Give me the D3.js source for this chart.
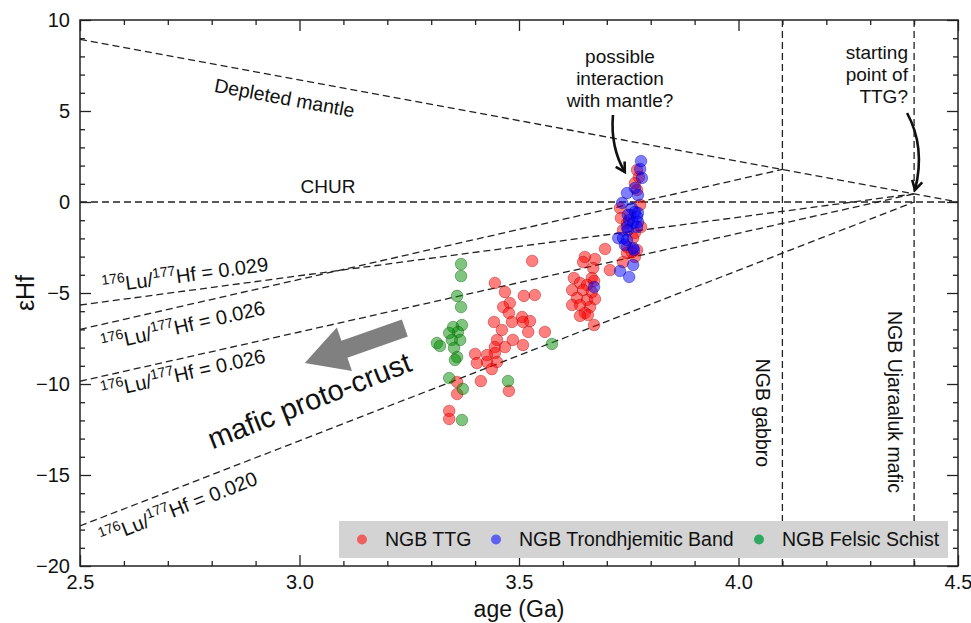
<!DOCTYPE html>
<html><head><meta charset="utf-8">
<script src="https://cdn.jsdelivr.net/npm/d3@7"></script>
<style>
body{margin:0;background:#fff;}
text{font-family:"Liberation Sans",Arial,Helvetica,sans-serif;fill:#111;}
</style>
</head><body>
<svg id="chart" width="971" height="623"></svg>
<script>
// ---------- data ----------
const xTicks = [2.5, 3.0, 3.5, 4.0, 4.5];
const yTicks = [-20, -15, -10, -5, 0, 5, 10];

// NGB TTG
const ttgAge = [3.530,3.445,3.468,3.511,3.536,3.479,3.464,3.477,3.507,3.484,3.443,3.525,3.509,3.521,3.461,3.559,3.486,3.450,3.445,3.509,3.468,3.445,3.427,3.400,3.404,3.427,3.450,3.438,3.413,3.359,3.359,3.477,3.341,3.341,
  3.650,3.646,3.673,3.669,3.625,3.666,3.671,3.639,3.655,3.621,3.646,3.666,3.632,3.655,3.673,3.621,3.639,3.662,3.650,3.657,3.639,3.671,3.696,3.707,3.737,
  3.769,3.773,3.764,3.769,3.730,3.753,3.746,3.764,3.737,3.746,3.769,3.746,3.757,3.764,3.776,3.760,3.778,3.732];
const ttgEHf = [-3.24,-4.45,-4.95,-5.16,-5.11,-5.55,-5.77,-6.10,-6.32,-6.59,-6.59,-6.54,-6.59,-7.14,-7.03,-7.14,-7.58,-7.58,-7.97,-7.86,-7.97,-8.30,-8.41,-8.35,-8.85,-8.79,-8.79,-9.18,-9.84,-9.89,-10.55,-10.38,-11.48,-11.92,
  -3.02,-3.30,-3.13,-3.63,-4.18,-4.18,-4.34,-4.45,-4.56,-4.84,-4.84,-4.95,-5.27,-5.38,-5.33,-5.66,-5.66,-5.77,-6.10,-6.21,-6.26,-6.76,-2.58,-3.74,-3.30,
  1.76,1.37,1.04,0.66,-0.33,-0.71,-1.15,-1.70,-1.54,-2.47,-2.64,-2.80,-2.75,-3.02,-0.16,-1.98,-1.37,-0.88];

// NGB Trondhjemitic Band
const tbAge = [3.778,3.776,3.780,3.746,3.764,3.771,3.735,3.757,3.764,3.771,3.748,3.769,3.751,3.760,3.771,3.746,3.769,3.748,3.726,3.737,3.746,3.760,3.741,3.762,3.760,3.730,3.751,3.671];
const tbEHf = [2.25,1.81,1.32,0.49,0.77,0.38,-0.05,-0.33,-0.55,-0.60,-0.71,-0.82,-0.99,-1.15,-1.10,-1.37,-1.37,-1.54,-1.98,-1.98,-2.09,-2.53,-2.36,-2.64,-3.46,-3.79,-4.12,-4.67];

// NGB Felsic Schist
const fsAge = [3.368,3.368,3.359,3.368,3.370,3.350,3.361,3.341,3.366,3.347,3.313,3.320,3.352,3.359,3.354,3.341,3.372,3.475,3.575,3.370];
const fsEHf = [-3.41,-4.07,-5.16,-5.77,-6.76,-6.87,-7.14,-7.20,-7.58,-7.58,-7.75,-7.91,-8.02,-8.52,-8.68,-9.67,-10.27,-9.84,-7.80,-11.98];

// reference evolution lines [age, eHf]
const depletedMantle = [[2.5, 8.94], [4.5, 0]];
const churLine = [[2.5, 0], [4.5, 0]];
const luHfLine029 = [[2.5, -5.66], [4.4, 0.45]];
const luHfLine026a = [[2.5, -7.0], [4.1, 1.79]];
const luHfLine026b = [[2.5, -9.85], [4.4, 0.45]];
const luHfLine020 = [[2.5, -17.8], [4.4, 0.0]];
const modelAges = [4.1, 4.4];

const seriesNames = ["NGB TTG", "NGB Trondhjemitic Band", "NGB Felsic Schist"];
const seriesColors = ["#ff0000", "#0000ff", "#008a00"];
const legendColors = ["#f06060", "#6060f0", "#30a860"];

// ---------- chart ----------
const svg = d3.select("#chart");
const L = 80, R = 958, T = 20, B = 566;
const x = d3.scaleLinear().domain([2.5, 4.5]).range([L, R]);
const y = d3.scaleLinear().domain([-20, 10]).range([B, T]);

svg.append("defs").append("clipPath").attr("id", "clip")
  .append("rect").attr("x", L).attr("y", T).attr("width", R - L).attr("height", B - T);

const line = d3.line().x(d => x(d[0])).y(d => y(d[1]));
const dashG = svg.append("g").attr("clip-path", "url(#clip)")
  .attr("fill", "none").attr("stroke", "#222").attr("stroke-width", 1.3).attr("stroke-dasharray", "7,4");
[depletedMantle, churLine, luHfLine029, luHfLine026a, luHfLine026b, luHfLine020].forEach(ln => {
  dashG.append("path").attr("d", line(ln));
});
modelAges.forEach(a => {
  dashG.append("line").attr("x1", x(a)).attr("x2", x(a)).attr("y1", T).attr("y2", B);
});

// points
const ptsG = svg.append("g").attr("clip-path", "url(#clip)");
function drawSeries(ages, vals, col) {
  ptsG.append("g").selectAll("circle").data(ages.map((a, i) => [a, vals[i]])).join("circle")
    .attr("cx", d => x(d[0])).attr("cy", d => y(d[1])).attr("r", 5.8)
    .attr("fill", col).attr("fill-opacity", 0.5)
    .attr("stroke", d3.color(col).darker(1.2)).attr("stroke-opacity", 0.45).attr("stroke-width", 0.9);
}
drawSeries(ttgAge, ttgEHf, seriesColors[0]);
drawSeries(tbAge, tbEHf, seriesColors[1]);
drawSeries(fsAge, fsEHf, seriesColors[2]);

// axes
const minorX = d3.range(2.5, 4.501, 0.1).filter(v => Math.abs(v * 2 - Math.round(v * 2)) > 1e-6);
const minorY = d3.range(-20, 10.01, 1).filter(v => v % 5 !== 0);
function styleAxis(g) { g.select(".domain").remove(); g.selectAll("line").attr("stroke", "#222").attr("stroke-width", 1.3); g.selectAll("text").style("font-size", "20px").attr("fill", "#111"); }
svg.append("g").attr("transform", `translate(0,${B})`)
  .call(d3.axisBottom(x).tickValues(xTicks).tickSize(-11).tickPadding(9).tickFormat(d3.format(".1f"))).call(styleAxis);
svg.append("g").attr("transform", `translate(0,${B})`)
  .call(d3.axisBottom(x).tickValues(minorX).tickSize(-5).tickFormat("")).call(styleAxis);
svg.append("g").attr("transform", `translate(0,${T})`)
  .call(d3.axisTop(x).tickValues(xTicks).tickSize(-11).tickFormat("")).call(styleAxis);
svg.append("g").attr("transform", `translate(0,${T})`)
  .call(d3.axisTop(x).tickValues(minorX).tickSize(-5).tickFormat("")).call(styleAxis);
svg.append("g").attr("transform", `translate(${L},0)`)
  .call(d3.axisLeft(y).tickValues(yTicks).tickSize(-11).tickPadding(10)).call(styleAxis);
svg.append("g").attr("transform", `translate(${L},0)`)
  .call(d3.axisLeft(y).tickValues(minorY).tickSize(-5).tickFormat("")).call(styleAxis);
svg.append("g").attr("transform", `translate(${R},0)`)
  .call(d3.axisRight(y).tickValues(yTicks).tickSize(-11).tickFormat("")).call(styleAxis);
svg.append("g").attr("transform", `translate(${R},0)`)
  .call(d3.axisRight(y).tickValues(minorY).tickSize(-5).tickFormat("")).call(styleAxis);
svg.append("rect").attr("x", L).attr("y", T).attr("width", R - L).attr("height", B - T)
  .attr("fill", "none").attr("stroke", "#222").attr("stroke-width", 1.5);

// axis titles
svg.append("text").attr("x", (L + R) / 2).attr("y", 617).attr("text-anchor", "middle")
  .style("font-size", "23px").text("age (Ga)");
svg.append("text").attr("transform", `translate(34,${(T + B) / 2}) rotate(-90)`).attr("text-anchor", "middle")
  .style("font-size", "25px").text("εHf");

// annotations
function ann(t, v, rot, txt, size, anchor) {
  return svg.append("text").attr("transform", `translate(${x(t)},${y(v)}) rotate(${rot})`)
    .attr("text-anchor", anchor || "start").style("font-size", size + "px").text(txt);
}
ann(2.963, 5.35, 10.4, "Depleted mantle", 19.5, "middle");
ann(3.065, 0.49, 0, "CHUR", 19, "middle");

function luHf(t, v, rot, val) {
  const tx = svg.append("text").attr("transform", `translate(${x(t)},${y(v)}) rotate(${rot})`).style("font-size", "20px");
  tx.append("tspan").attr("dy", -8).style("font-size", "14px").text("176");
  tx.append("tspan").attr("dy", 8).text("Lu/");
  tx.append("tspan").attr("dy", -8).style("font-size", "14px").text("177");
  tx.append("tspan").attr("dy", 8).text("Hf = " + val);
}
luHf(2.5524, -5.0, -7.6, "0.029");
luHf(2.5524, -8.2, -12.8, "0.026");
luHf(2.5524, -10.8, -12.5, "0.026");
luHf(2.5524, -18.85, -21.4, "0.020");

ann(2.802, -13.6, -21.5, "mafic proto-crust", 29, "start");

// gray arrow
(function () {
  const tipX = x(3.012), tipY = y(-8.85);
  const Lh = 106, hl = 42, hw = 23, sw = 9;
  const pts = [[0, 0], [hl, -hw], [hl, -sw], [Lh, -sw], [Lh, sw], [hl, sw], [hl, hw]];
  svg.append("polygon").attr("points", pts.map(p => p.join(",")).join(" "))
    .attr("transform", `translate(${tipX},${tipY}) rotate(-19.3)`).attr("fill", "#808080");
})();

// multi-line notes
function note(t, v, anchor, lines) {
  const tx = svg.append("text").attr("x", x(t)).attr("y", y(v)).attr("text-anchor", anchor).style("font-size", "19px");
  lines.forEach((l, i) => tx.append("tspan").attr("x", x(t)).attr("dy", i ? 22 : 0).text(l));
}
note(3.730, 7.64, "middle", ["possible", "interaction", "with mantle?"]);
note(4.386, 7.86, "end", ["starting", "point of", "TTG?"]);

svg.select("defs").append("marker").attr("id", "ah").attr("viewBox", "0 0 10 10").attr("refX", 8).attr("refY", 5)
  .attr("markerWidth", 5).attr("markerHeight", 5).attr("orient", "auto")
  .append("path").attr("d", "M1,1 L8,5 L1,9").attr("fill", "none").attr("stroke", "#111").attr("stroke-width", 2);
function curveArrow(p0, c, p1) {
  const p = d3.path(); p.moveTo(x(p0[0]), y(p0[1])); p.quadraticCurveTo(x(c[0]), y(c[1]), x(p1[0]), y(p1[1]));
  svg.append("path").attr("d", p.toString()).attr("fill", "none").attr("stroke", "#111").attr("stroke-width", 2.6)
    .attr("marker-end", "url(#ah)");
}
curveArrow([3.714, 4.78], [3.708, 3.0], [3.741, 1.65]);
curveArrow([4.384, 4.89], [4.4267, 3.0], [4.402, 0.66]);

// vertical labels
ann(4.056, -11.59, 90, "NGB gabbro", 19.5, "middle").attr("dominant-baseline", "central");
ann(4.3565, -10.99, 90, "NGB Ujaraaluk mafic", 19.5, "middle").attr("dominant-baseline", "central");

// legend
const lg = svg.append("g");
lg.append("rect").attr("x", 339).attr("y", 521).attr("width", 609).attr("height", 37).attr("fill", "#d3d3d3");
const legX = [362, 496, 759];
seriesNames.forEach((n, i) => {
  lg.append("circle").attr("cx", legX[i]).attr("cy", 539.5).attr("r", 5).attr("fill", legendColors[i]);
  lg.append("text").attr("x", legX[i] + 23).attr("y", 546).style("font-size", "19.5px").text(n);
});
</script>
</body></html>
